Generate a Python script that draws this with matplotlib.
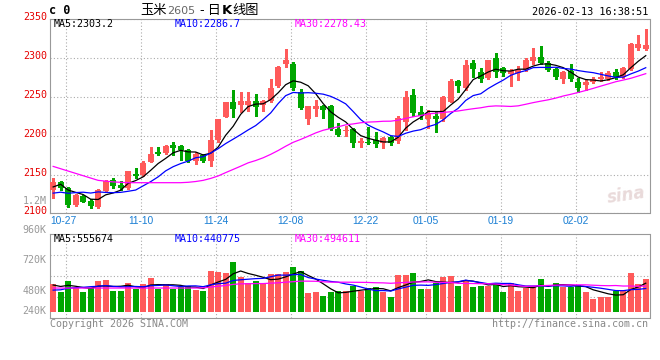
import numpy as np
import matplotlib
matplotlib.use("Agg")
import matplotlib.pyplot as plt

# ---------------- data ----------------
opens = [2130, 2140, 2133, 2111, 2122, 2116, 2108, 2129, 2143, 2136,
         2132, 2151, 2149, 2166, 2179, 2178, 2188, 2187, 2182, 2168,
         2175, 2168, 2194, 2224, 2243, 2239, 2239, 2245, 2239, 2245,
         2264, 2293, 2292, 2256, 2222, 2235, 2238, 2238, 2209, 2206,
         2209, 2191, 2192, 2194, 2190, 2199, 2193, 2218, 2252, 2231,
         2221, 2226, 2221, 2244, 2270, 2262, 2294, 2282, 2274, 2300,
         2287, 2279, 2281, 2285, 2296, 2302, 2294, 2286, 2273, 2283,
         2269, 2266, 2269, 2273, 2273, 2282, 2276, 2286, 2313, 2312]
highs = [2145, 2142, 2134, 2125, 2123, 2119, 2131, 2143, 2146, 2141,
         2155, 2158, 2168, 2185, 2186, 2188, 2192, 2188, 2183, 2179,
         2177, 2207, 2221, 2244, 2259, 2256, 2256, 2254, 2246, 2273,
         2290, 2312, 2295, 2260, 2238, 2246, 2240, 2240, 2217, 2213,
         2210, 2197, 2211, 2205, 2199, 2200, 2225, 2258, 2260, 2238,
         2233, 2230, 2251, 2273, 2272, 2297, 2297, 2287, 2298, 2307,
         2289, 2286, 2290, 2300, 2313, 2316, 2296, 2287, 2283, 2292,
         2274, 2272, 2276, 2282, 2283, 2286, 2289, 2319, 2330, 2338]
lows = [2120, 2130, 2108, 2109, 2114, 2107, 2107, 2128, 2132, 2130,
        2131, 2145, 2148, 2166, 2175, 2177, 2175, 2169, 2166, 2164,
        2166, 2161, 2192, 2224, 2224, 2230, 2232, 2226, 2232, 2244,
        2263, 2289, 2259, 2234, 2215, 2225, 2223, 2208, 2200, 2200,
        2185, 2185, 2189, 2186, 2184, 2188, 2190, 2207, 2226, 2222,
        2210, 2205, 2219, 2243, 2257, 2259, 2276, 2269, 2273, 2276,
        2277, 2264, 2272, 2284, 2292, 2292, 2284, 2273, 2268, 2271,
        2257, 2259, 2268, 2271, 2272, 2273, 2274, 2285, 2311, 2310]
closes = [2140, 2132, 2111, 2123, 2115, 2110, 2130, 2141, 2135, 2133,
          2154, 2148, 2165, 2177, 2177, 2187, 2184, 2181, 2167, 2176,
          2168, 2195, 2221, 2243, 2234, 2245, 2245, 2237, 2245, 2261,
          2289, 2297, 2262, 2236, 2238, 2238, 2233, 2209, 2201, 2208,
          2190, 2193, 2191, 2189, 2197, 2190, 2223, 2250, 2229, 2226,
          2229, 2222, 2250, 2271, 2264, 2291, 2286, 2273, 2297, 2282,
          2281, 2284, 2285, 2297, 2302, 2294, 2285, 2276, 2282, 2273,
          2262, 2269, 2273, 2276, 2281, 2276, 2287, 2318, 2318, 2317]
volumes = [526000, 380000, 589000, 450000, 380000, 450000, 589000, 608000, 399000, 399000,
           551000, 437000, 532000, 646000, 437000, 532000, 437000, 481000, 494000, 418000,
           399000, 779000, 760000, 741000, 950000, 665000, 545000, 589000, 545000, 728000,
           716000, 760000, 855000, 779000, 361000, 380000, 304000, 380000, 399000, 399000,
           494000, 399000, 462000, 481000, 374000, 291000, 709000, 709000, 747000, 443000,
           443000, 545000, 671000, 690000, 500000, 595000, 475000, 500000, 500000, 557000,
           386000, 557000, 405000, 462000, 500000, 627000, 437000, 557000, 481000, 469000,
           519000, 386000, 253000, 291000, 279000, 399000, 418000, 747000, 538000, 633000]
# closes / volumes of the 29 sessions before the window (only feed the moving averages)
prev_closes = [2222, 2201, 2213, 2205, 2200, 2220, 2171, 2165, 2148, 2169,
               2148, 2165, 2177, 2177, 2187, 2184, 2181, 2152, 2146, 2123,
               2120, 2125, 2114, 2110, 2121, 2115, 2148, 2138, 2129]
prev_volumes = [380000, 589000, 450000, 380000, 450000, 589000, 608000, 399000, 399000, 551000,
                437000, 532000, 646000, 437000, 532000, 437000, 481000, 494000, 418000,
                300000, 320000, 280000, 350000, 310000, 330000, 520000, 480000, 540000, 500000]

tick_index = [2, 12, 22, 32, 42, 50, 60, 70]
tick_labels = ["10-27", "11-10", "11-24", "12-08", "12-22", "01-05", "01-19", "02-02"]
price_ticks = [2350, 2300, 2250, 2200, 2150, 2100]
vol_tick_labels = ["960K", "720K", "480K", "240K"]
ma_periods = [5, 10, 30]
price_ma_text = ["MA5:2303.2", "MA10:2286.7", "MA30:2278.43"]
vol_ma_text = ["MA5:555674", "MA10:440775", "MA30:494611"]
title_parts = ["玉米", "2605", " - 日", "K", "线图"]
time_text = "2026-02-13 16:38:51"

# ---------------- style ----------------
W, H = 660, 360
RED = "#ff5a5a"
GREEN = "#00a600"
MA_COLORS = ["#000000", "#0000ff", "#ff00ff"]
GRID = "#aaaaaa"
SPINE = "#999999"
DATE_BLUE = "#1a7fd4"
MONO = "DejaVu Sans Mono"
CJK = ["Noto Sans CJK SC", "DejaVu Sans"]

plt.rcParams["font.family"] = ["DejaVu Sans"]

def fx(x):
    return x / W

def fy(y):
    return 1 - y / H

def moving_avg(series, prev, n):
    full = np.asarray(list(prev) + list(series), dtype=float)
    out = np.convolve(full, np.ones(n) / n, mode="valid")
    return out[-len(series):]

o = np.array(opens, float)
c = np.array(closes, float)
hi = np.array(highs, float)
lo = np.array(lows, float)
v = np.array(volumes, float)
n = len(c)
x = np.arange(n)
up = c >= o
cols = np.where(up, RED, GREEN)

fig = plt.figure(figsize=(W / 100, H / 100), dpi=100)
fig.patch.set_facecolor("white")

main_top, main_bot = 19.0, 213.3
vol_top, vol_bot = 234.0, 317.7
left, right = 50.0, 649.5

ax = fig.add_axes([fx(left), fy(main_bot), (right - left) / W, (main_bot - main_top) / H])
axv = fig.add_axes([fx(left), fy(vol_bot), (right - left) / W, (vol_bot - vol_top) / H])

grid_x = np.array(tick_index) - 0.33
xlim = (-0.42, n - 0.5)

for a in (ax, axv):
    a.set_xlim(*xlim)
    a.set_facecolor("white")
    for s in a.spines.values():
        s.set_color(SPINE)
        s.set_linewidth(0.8)
    a.set_xticks(grid_x)
    a.set_xticklabels([])
    a.tick_params(length=0, labelleft=False, labelbottom=False)
    a.grid(True, color=GRID, linestyle=(0, (1, 2)), linewidth=0.8)
    a.set_axisbelow(True)

# ---- price panel ----
ax.set_ylim(2100, 2350.5)
ax.set_yticks(price_ticks)
ax.vlines(x, lo, hi, colors=cols, linewidth=0.8, antialiased=False, zorder=3)
body_bottom = np.minimum(o, c)
body_h = np.maximum(np.abs(c - o), 1.0)
ax.bar(x, body_h, bottom=body_bottom, width=0.8, color=cols, linewidth=0,
       antialiased=False, zorder=4)
for per, col in zip(ma_periods, MA_COLORS):
    ax.plot(x, moving_avg(c, prev_closes, per), color=col, linewidth=0.9, zorder=5)

for val in price_ticks:
    ax.annotate(str(val), xy=(0, val), xycoords=("axes fraction", "data"),
                xytext=(-3, 2), textcoords="offset pixels", ha="right", va="center",
                color="#e60000", fontsize=7.2, family=MONO)

for k, (ti, lab) in enumerate(zip(grid_x, tick_labels)):
    if k == 0:
        ax.text(0, -0.04, lab, transform=ax.transAxes, ha="left", va="center",
                color=DATE_BLUE, fontsize=7.4, family="Liberation Sans")
    else:
        ax.text(ti, -0.04, lab, transform=ax.get_xaxis_transform(), ha="center",
                va="center", color=DATE_BLUE, fontsize=7.4, family="Liberation Sans")

ma_x = [54, 175, 295]
for tx, t, col in zip(ma_x, price_ma_text, MA_COLORS):
    fig.text(fx(tx), fy(24), t, color=col, fontsize=7.2, family=MONO, va="center", ha="left")

# sina watermark
ax.text(0.962, 0.09, "sina", transform=ax.transAxes, ha="center", va="center",
        fontsize=12, fontweight="bold", fontstyle="italic", color="#e9dada",
        rotation=8, zorder=2)

# ---- volume panel ----
vzero = 312.0
vscale = 19000.0
axv.set_ylim((vzero - vol_bot) * vscale, (vzero - vol_top) * vscale)
vol_grid_px = [255, 276, 297]
axv.set_yticks([(vzero - p) * vscale for p in vol_grid_px])
axv.bar(x, v, width=0.8, color=cols, linewidth=0, antialiased=False, zorder=3)
for per, col in zip(ma_periods, MA_COLORS):
    axv.plot(x, moving_avg(v, prev_volumes, per), color=col, linewidth=0.9, zorder=4)

for tx, t, col in zip(ma_x, vol_ma_text, MA_COLORS):
    fig.text(fx(tx), fy(238.5), t, color=col, fontsize=7.2, family=MONO, va="center", ha="left")

vol_label_px = [230, 260, 291, 311]
for lab, py in zip(vol_tick_labels, vol_label_px):
    fig.text(fx(46.5), fy(py), lab, color="#999999", fontsize=7.2, family=MONO,
             ha="right", va="center")
fig.text(fx(46.5), fy(200.5), "1.2M", color="#999999", fontsize=7.2, family=MONO,
         ha="right", va="center")

# ---- header / footer ----
fig.text(fx(49), fy(11), "c 0", color="black", fontsize=8.5, family=MONO,
         fontweight="bold", ha="left", va="center")

# title drawn piecewise: grey contract number, bold K
renderer = fig.canvas.get_renderer()
part_styles = [
    dict(color="black", fontsize=9.5, family=CJK),
    dict(color="#666666", fontsize=8, family="DejaVu Sans"),
    dict(color="black", fontsize=9.5, family=CJK),
    dict(color="black", fontsize=9.5, family="DejaVu Sans", fontweight="bold"),
    dict(color="black", fontsize=9.5, family=CJK),
]
cur_x = 140.0
for part, st in zip(title_parts, part_styles):
    t = fig.text(fx(cur_x), fy(10.5), part, ha="left", va="center", **st)
    bb = t.get_window_extent(renderer=renderer)
    cur_x += bb.width + 1.0

fig.text(fx(648), fy(12), time_text, color="black", fontsize=7.4, family=MONO,
         ha="right", va="center")
fig.text(fx(50), fy(324), "Copyright 2026 SINA.COM", color="#888888", fontsize=7.2,
         family=MONO, ha="left", va="center")
fig.text(fx(648), fy(324), "http://finance.sina.com.cn", color="#888888", fontsize=7.2,
         family=MONO, ha="right", va="center")

fig.savefig("out.png", dpi=100, facecolor="white")
